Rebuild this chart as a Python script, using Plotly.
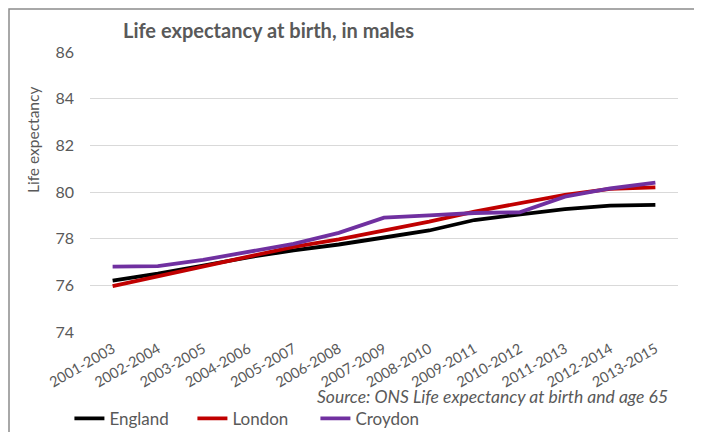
import plotly.graph_objects as go

periods = ["2001-2003", "2002-2004", "2003-2005", "2004-2006", "2005-2007", "2006-2008",
           "2007-2009", "2008-2010", "2009-2011", "2010-2012", "2011-2013", "2012-2014", "2013-2015"]
england = [76.2, 76.5, 76.85, 77.2, 77.5, 77.75, 78.05, 78.35, 78.8, 79.05, 79.27, 79.42, 79.45]
london = [75.97, 76.4, 76.83, 77.26, 77.65, 77.97, 78.33, 78.73, 79.16, 79.54, 79.88, 80.13, 80.2]
croydon = [76.8, 76.82, 77.09, 77.42, 77.78, 78.25, 78.9, 79.0, 79.1, 79.13, 79.8, 80.15, 80.4]

y_ticks = [74, 76, 78, 80, 82, 84, 86]

FONT = "Lato"
GRAY = "#595959"

fig = go.Figure()
for name, vals, col in [("England", england, "#000000"),
                        ("London", london, "#C00000"),
                        ("Croydon", croydon, "#7030A0")]:
    fig.add_trace(go.Scatter(x=periods, y=vals, mode="lines", name=name,
                             line=dict(color=col, width=3.8)))

fig.update_layout(
    width=702, height=432,
    margin=dict(l=82, r=32, t=44, b=108, autoexpand=False),
    paper_bgcolor="white", plot_bgcolor="white",
    font=dict(family=FONT, color=GRAY),
    showlegend=True,
    legend=dict(orientation="h", x=-0.035, y=-0.31, xanchor="left", yanchor="middle",
                font=dict(size=17, color=GRAY, family=FONT),
                entrywidth=78, entrywidthmode="pixels", itemwidth=30,
                bgcolor="rgba(0,0,0,0)"),
    xaxis=dict(type="category", range=[-0.5, 12.5], tickangle=-30,
               tickfont=dict(size=14.5, color=GRAY, family=FONT), automargin=False,
               showgrid=False, showline=False, ticks="", zeroline=False, ticklabelstandoff=5),
    yaxis=dict(range=[74, 86], tickvals=y_ticks, tickfont=dict(size=16, color=GRAY, family=FONT),
               showgrid=True, gridcolor="#D9D9D9", gridwidth=1, zeroline=False, automargin=False,
               showline=False, ticks="", ticklabelstandoff=15),
)

fig.add_annotation(text="<b>Life expectancy at birth, in males</b>", xref="paper", yref="paper",
                   x=(121 - 90) / 588, y=1 + (52 - 30) / 280, xanchor="left", yanchor="middle", showarrow=False,
                   font=dict(size=20, color=GRAY, family=FONT))
fig.add_annotation(text="Life expectancy", xref="paper", yref="paper",
                   x=(33 - 90) / 588, y=(332 - 140) / 280, xanchor="center", yanchor="middle",
                   textangle=-90, showarrow=False, font=dict(size=15.5, color=GRAY, family=FONT))
fig.add_annotation(text="<i>Source: ONS Life expectancy at birth and age 65</i>", xref="paper", yref="paper",
                   x=(670 - 90) / 588, y=(332 - 396) / 280, xanchor="right", yanchor="middle",
                   showarrow=False, font=dict(size=17.5, color=GRAY, family=FONT))

fig.add_shape(type="rect", xref="paper", yref="paper",
              x0=(9 - 90) / 588, x1=1.2, y0=-0.6, y1=1 + (52 - 9) / 280,
              line=dict(color="#8C8C8C", width=1.5), fillcolor="rgba(0,0,0,0)", layer="below")

fig.write_html("out.html")
